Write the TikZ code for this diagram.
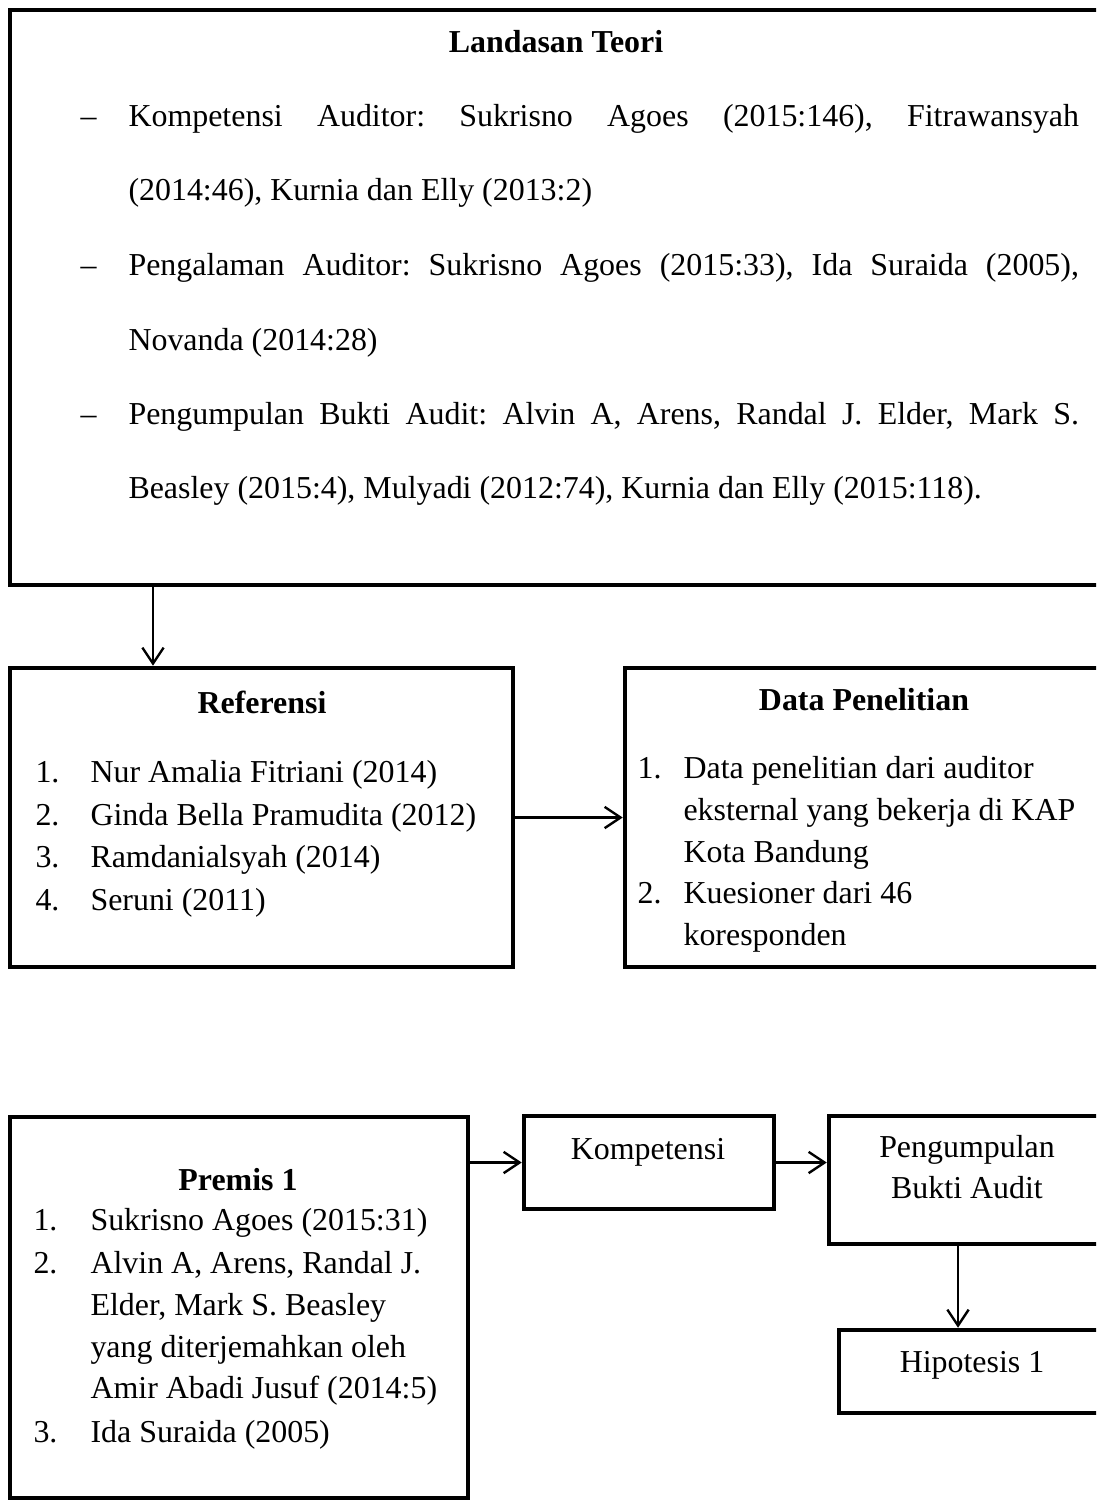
\documentclass[tikz,border=0pt]{standalone}
\usepackage{fontspec}
\setmainfont{Liberation Serif}
\usetikzlibrary{fit,arrows.meta}
\frenchspacing
\newcommand\jline[1]{\makebox[12.56cm][s]{#1}}

\begin{document}
\begin{tikzpicture}[x=0.01322cm, y=-0.01322cm,
  every node/.style={font=\fontsize{12}{14}\selectfont, inner sep=0pt},
  box/.style={draw, line width=1.7pt, inner sep=0pt, fit={#1}},
  arr/.style={-{Straight Barb[length=6pt,width=8pt]}, line width=0.9pt},
  ln/.style={anchor=base west},
  ttl/.style={anchor=base, font=\fontsize{12}{14}\selectfont\bfseries}]

\path[use as bounding box, clip] (0,0) rectangle (1096,1501);

% boxes
\node[box={(10,10) (1102,585)}] (teori) {};
\node[box={(10,668) (513,967)}] (referensi) {};
\node[box={(625,668) (1103,967)}] (data) {};
\node[box={(10,1117) (468,1498)}] (premis) {};
\node[box={(524,1116) (774,1209)}] (kompetensi) {};
\node[box={(829,1116) (1105,1244)}] (bukti) {};
\node[box={(839,1330) (1105,1413)}] (hipotesis) {};

% Landasan Teori
\node[ttl] (teoriT) at (556,53) {Landasan Teori};
\node[ln] (teoriD1) at (80,127) {\textendash};
\node[ln] (teoriL1) at (128,127) {\jline{Kompetensi Auditor: Sukrisno Agoes (2015:146), Fitrawansyah}};
\node[ln] (teoriL2) at (128,201) {(2014:46), Kurnia dan Elly (2013:2)};
\node[ln] (teoriD2) at (80,275) {\textendash};
\node[ln] (teoriL3) at (128,275) {\jline{Pengalaman Auditor: Sukrisno Agoes (2015:33), Ida Suraida (2005),}};
\node[ln] (teoriL4) at (128,350) {Novanda (2014:28)};
\node[ln] (teoriD3) at (80,424) {\textendash};
\node[ln] (teoriL5) at (128,424) {\jline{Pengumpulan Bukti Audit: Alvin A, Arens, Randal J. Elder, Mark S.}};
\node[ln] (teoriL6) at (128,498) {Beasley (2015:4), Mulyadi (2012:74), Kurnia dan Elly (2015:118).};

% Referensi
\node[ttl] (refT) at (262,713) {Referensi};
\node[ln] (refN1) at (35,782) {1.};
\node[ln] (refN2) at (35,825) {2.};
\node[ln] (refN3) at (35,867) {3.};
\node[ln] (refN4) at (35,910) {4.};
\node[ln] (refL1) at (90,782) {Nur Amalia Fitriani (2014)};
\node[ln] (refL2) at (90,825) {Ginda Bella Pramudita (2012)};
\node[ln] (refL3) at (90,867) {Ramdanialsyah (2014)};
\node[ln] (refL4) at (90,910) {Seruni (2011)};

% Data Penelitian
\node[ttl] (dataT) at (864,710) {Data Penelitian};
\node[ln] (dataN1) at (637,778) {1.};
\node[ln] (dataN2) at (637,903) {2.};
\node[ln] (dataL1) at (683,778) {Data penelitian dari auditor};
\node[ln] (dataL2) at (683,820) {eksternal yang bekerja di KAP};
\node[ln] (dataL3) at (683,862) {Kota Bandung};
\node[ln] (dataL4) at (683,903) {Kuesioner dari 46};
\node[ln] (dataL5) at (683,945) {koresponden};

% Premis 1
\node[ttl] (premisT) at (238,1190) {Premis 1};
\node[ln] (premisN1) at (33,1230) {1.};
\node[ln] (premisN2) at (33,1273) {2.};
\node[ln] (premisN3) at (33,1442) {3.};
\node[ln] (premisL1) at (90,1230) {Sukrisno Agoes (2015:31)};
\node[ln] (premisL2) at (90,1273) {Alvin A, Arens, Randal J.};
\node[ln] (premisL3) at (90,1315) {Elder, Mark S. Beasley};
\node[ln] (premisL4) at (90,1357) {yang diterjemahkan oleh};
\node[ln] (premisL5) at (90,1398) {Amir Abadi Jusuf (2014:5)};
\node[ln] (premisL6) at (90,1442) {Ida Suraida (2005)};

% small boxes
\node[anchor=base] (kompT) at (648,1159) {Kompetensi};
\node[anchor=base] (buktiT1) at (967,1157) {Pengumpulan};
\node[anchor=base] (buktiT2) at (967,1198) {Bukti Audit};
\node[anchor=base] (hipT) at (972,1372) {Hipotesis 1};

% arrows
\coordinate (downA) at (153,0);
\coordinate (downB) at (958,0);
\draw[arr] (teori.south -| downA) -- (referensi.north -| downA); %teori to referensi
\draw[arr] (referensi.east) -- (data.west); %referensi to data
\draw[arr] (premis.east |- kompetensi.west) -- (kompetensi.west); %premis to kompetensi
\draw[arr] (kompetensi.east) -- (bukti.west |- kompetensi.east); %kompetensi to bukti
\draw[arr] (bukti.south -| downB) -- (hipotesis.north -| downB); %bukti to hipotesis
\end{tikzpicture}
\end{document}
